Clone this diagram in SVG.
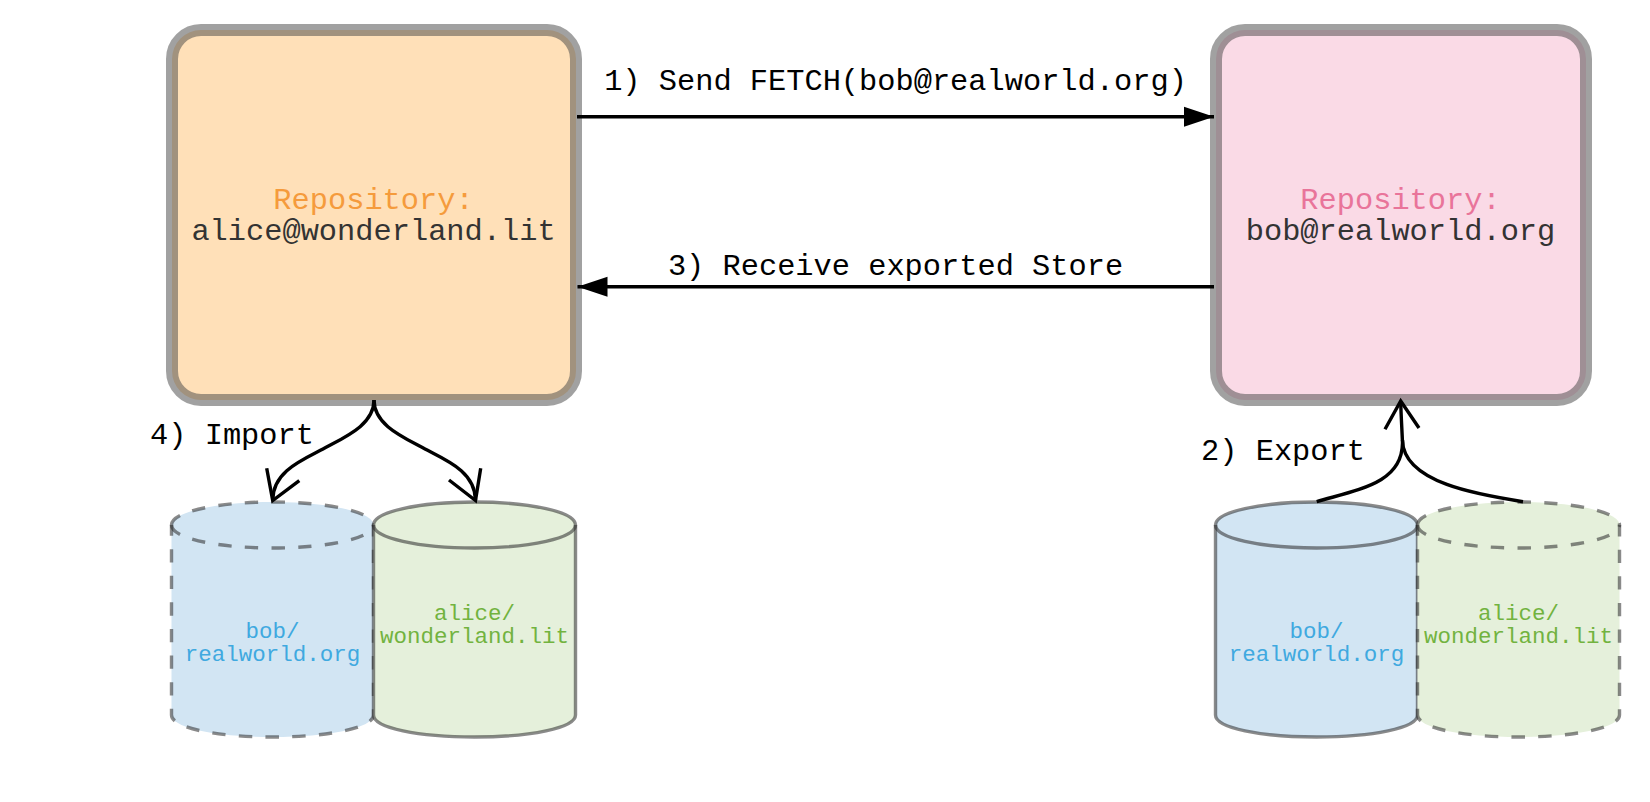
<svg xmlns="http://www.w3.org/2000/svg" width="1650" height="802" viewBox="0 0 1650 802">
<style>
text{font-family:"Liberation Mono",monospace;text-anchor:middle}
.repo{stroke:#444;stroke-opacity:.5;stroke-width:12}
.big{font-size:30.35px}
.small{font-size:22.5px}
.lbl{font-size:30.35px;fill:#000}
.cyl{stroke:#2a2a2a;stroke-opacity:.55;stroke-width:3.4}
.dash{stroke-dasharray:13.3 13.3}
.blue{fill:#d2e5f3}
.green{fill:#e5f0db}
.tb{fill:#3fa9e0}
.tg{fill:#72b33f}
.arc{fill:none}
.edge{fill:none;stroke:#000;stroke-width:3.4}
</style>
<defs>
<marker id="solid" markerUnits="userSpaceOnUse" markerWidth="32" markerHeight="22" refX="30" refY="11" orient="auto"><path d="M0 1L30 11L0 21Z" fill="#000"/></marker>
<path id="cylBody" d="M0 23C0 10 45 0 101 0S202 10 202 23V213C202 226 157 235 101 235S0 226 0 213Z"/>
<path id="cylArc" d="M0 23C0 36 45 46 101 46S202 36 202 23"/>
</defs>
<g id="repo-alice">
<rect class="repo" x="172" y="30" width="404" height="370" rx="29" fill="#ffe0b8"/>
<text class="big" x="373.5" y="209" fill="#f59b3c">Repository:</text>
<text class="big" x="373.5" y="240" fill="#333">alice@wonderland.lit</text>
</g>
<g id="repo-bob">
<rect class="repo" x="1216" y="30" width="370" height="370" rx="29" fill="#fadae6"/>
<text class="big" x="1400.5" y="209" fill="#e9749a">Repository:</text>
<text class="big" x="1400.5" y="240" fill="#333">bob@realworld.org</text>
</g>
<g id="left-bob-store" transform="translate(171.5 502)">
<use href="#cylBody" class="cyl dash blue"/>
<use href="#cylArc" class="cyl dash arc"/>
<text class="small tb" x="101" y="136">bob/</text>
<text class="small tb" x="101" y="159">realworld.org</text>
</g>
<g id="left-alice-store" transform="translate(373.5 502)">
<use href="#cylBody" class="cyl green"/>
<use href="#cylArc" class="cyl arc"/>
<text class="small tg" x="101" y="118">alice/</text>
<text class="small tg" x="101" y="141">wonderland.lit</text>
</g>
<g id="right-bob-store" transform="translate(1215.5 502)">
<use href="#cylBody" class="cyl blue"/>
<use href="#cylArc" class="cyl arc"/>
<text class="small tb" x="101" y="136">bob/</text>
<text class="small tb" x="101" y="159">realworld.org</text>
</g>
<g id="right-alice-store" transform="translate(1417.5 502)">
<use href="#cylBody" class="cyl dash green"/>
<use href="#cylArc" class="cyl dash arc"/>
<text class="small tg" x="101" y="118">alice/</text>
<text class="small tg" x="101" y="141">wonderland.lit</text>
</g>
<g id="connectors">
<path class="edge" d="M577 116.7H1214" marker-end="url(#solid)"/>
<path class="edge" d="M1214 286.7H577.5" marker-end="url(#solid)"/>
<path class="edge" d="M374 400C374 425 345 437 323 449C300 461 273 472 272.7 500"/>
<path class="edge" d="M266.7 468.3L272.7 500.5L299.3 480.7"/>
<path class="edge" d="M374 400C374 425 403 437 425 449C448 461 475 472 475.5 500"/>
<path class="edge" d="M480.7 468.3L475.5 500.5L449 480"/>
<path class="edge" d="M1316.7 501.7C1360 489 1402 483 1402.5 443C1402 430 1401 415 1400.7 401"/>
<path class="edge" d="M1523 501.7C1480 495 1403 483 1402.5 440"/>
<path class="edge" d="M1385 429.3L1400.7 401L1419 428"/>
</g>
<g id="labels">
<text class="lbl" x="895.5" y="90">1) Send FETCH(bob@realworld.org)</text>
<text class="lbl" x="895.5" y="275">3) Receive exported Store</text>
<text class="lbl" x="232" y="444">4) Import</text>
<text class="lbl" x="1283" y="460">2) Export</text>
</g>
</svg>
